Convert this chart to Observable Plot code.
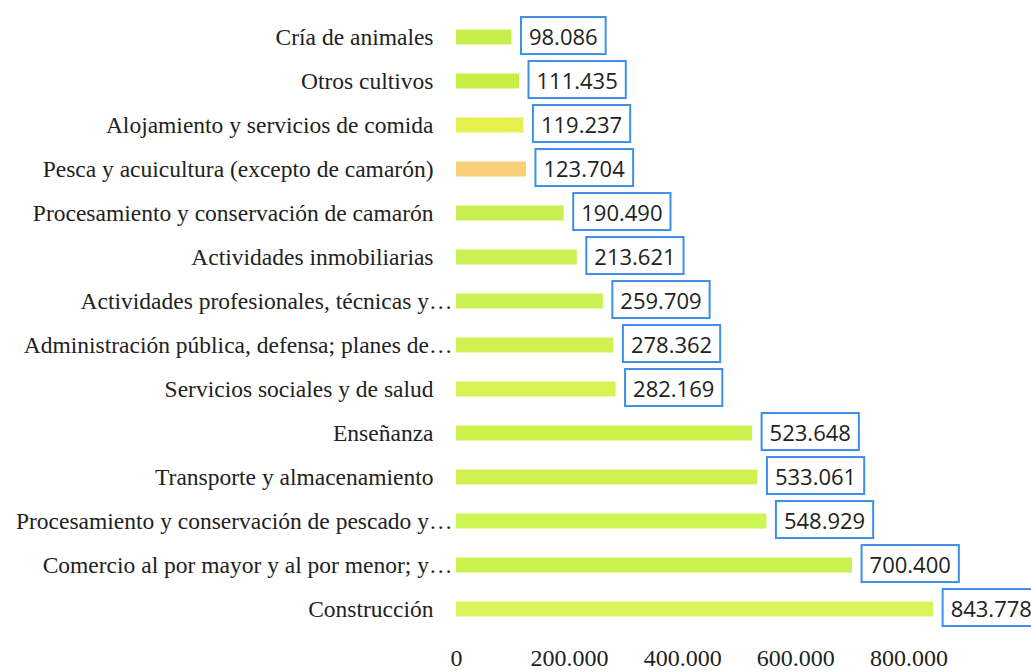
<!DOCTYPE html>
<html><head><meta charset="utf-8">
<script src="https://cdn.jsdelivr.net/npm/d3@7"></script>
<script src="https://cdn.jsdelivr.net/npm/@observablehq/plot@0.6"></script>
<style>body{margin:0;background:#fff}</style>
</head><body><div id="chart"></div>
<script>
const categories = [
  "Cría de animales",
  "Otros cultivos",
  "Alojamiento y servicios de comida",
  "Pesca y acuicultura (excepto de camarón)",
  "Procesamiento y conservación de camarón",
  "Actividades inmobiliarias",
  "Actividades profesionales, técnicas y…",
  "Administración pública, defensa; planes de…",
  "Servicios sociales y de salud",
  "Enseñanza",
  "Transporte y almacenamiento",
  "Procesamiento y conservación de pescado y…",
  "Comercio al por mayor y al por menor; y…",
  "Construcción"
];
const values = [98086, 111435, 119237, 123704, 190490, 213621, 259709, 278362, 282169, 523648, 533061, 548929, 700400, 843778];
const valueLabels = ["98.086", "111.435", "119.237", "123.704", "190.490", "213.621", "259.709", "278.362", "282.169", "523.648", "533.061", "548.929", "700.400", "843.778"];
const barColors = ["#c6ef4e", "#c8ef46", "#e6f04e", "#f6cf78", "#c8ef50", "#caf052", "#ccf152", "#d4f152", "#d8f256", "#cdf24e", "#cff250", "#cbf654", "#c9f24f", "#d8f55c"];
const truncated = [
  "Actividades profesionales, técnicas y…",
  "Administración pública, defensa; planes de…",
  "Procesamiento y conservación de pescado y…",
  "Comercio al por mayor y al por menor; y…"
];
const xTicks = [0, 200000, 400000, 600000, 800000];
const tickLabels = ["0", "200.000", "400.000", "600.000", "800.000"];

const data = categories.map((c, i) => ({category: c, value: values[i], label: valueLabels[i], color: barColors[i]}));

const chart = Plot.plot({
  width: 1031, height: 672,
  marginLeft: 456, marginRight: 5, marginTop: 11, marginBottom: 37,
  style: {fontFamily: "Liberation Serif", fontSize: "23px", color: "#222", background: "#fff", overflow: "hidden"},
  x: {domain: [0, 1008000], axis: null},
  y: {domain: categories, padding: 0, axis: null},
  marks: [
    Plot.barX(data, {y: "category", x: "value", fill: "color", insetTop: 14.5, insetBottom: 14.5}),
    Plot.text(data, {y: "category", x: "value", text: "label", dx: 17, textAnchor: "start",
      fontSize: 22, fontFamily: "Open Sans", fill: "#222", className: "vlabel"}),
    Plot.axisY({ticks: categories.filter(c => !truncated.includes(c)), label: null, tickSize: 0, tickPadding: 23, fontSize: 23.5, fontFamily: "Liberation Serif"}),
    Plot.axisY({ticks: truncated, label: null, tickSize: 0, tickPadding: 4, fontSize: 23.5, fontFamily: "Liberation Serif"}),
    Plot.axisX({ticks: xTicks, label: null, tickFormat: d => tickLabels[xTicks.indexOf(d)], tickSize: 0, tickPadding: 13, fontSize: 24, fontFamily: "Liberation Serif"})
  ]
});
document.getElementById("chart").append(chart);

// draw a blue box behind each value label
const ns = "http://www.w3.org/2000/svg";
chart.querySelectorAll("g.vlabel text").forEach(t => {
  const bb = t.getBBox();
  const r = document.createElementNS(ns, "rect");
  const tr = t.getAttribute("transform");
  if (tr) r.setAttribute("transform", tr);
  const cy = bb.y + bb.height / 2;
  r.setAttribute("x", bb.x - 8);
  r.setAttribute("y", cy - 18.5);
  r.setAttribute("width", bb.width + 16);
  r.setAttribute("height", 37);
  r.setAttribute("fill", "#fff");
  r.setAttribute("stroke", "#3d8fe8");
  r.setAttribute("stroke-width", 2);
  t.parentNode.insertBefore(r, t);
});
</script>
</body></html>
